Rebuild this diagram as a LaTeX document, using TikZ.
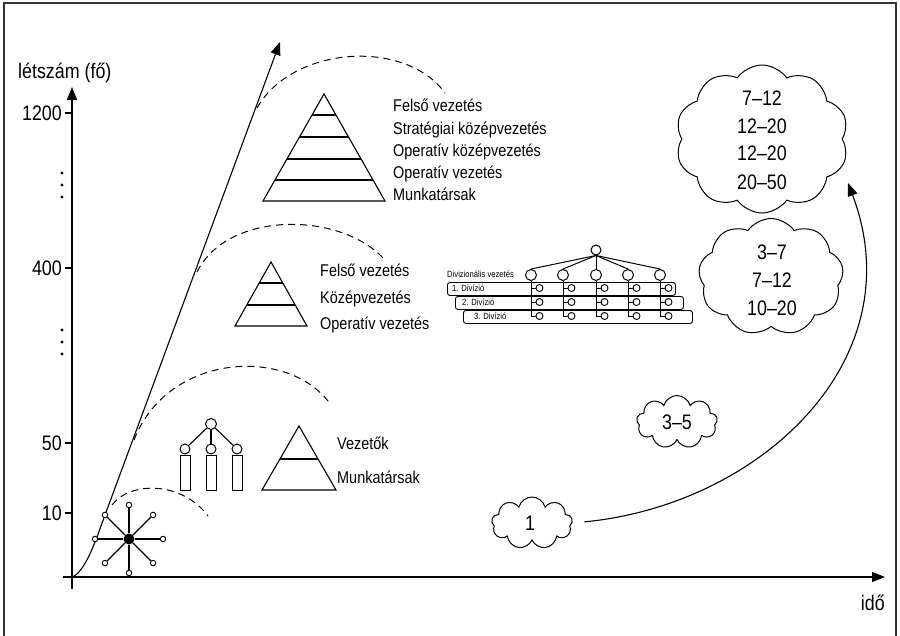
\documentclass[tikz,border=0pt]{standalone}
\usepackage{fontspec}
\setmainfont{Liberation Sans}[FakeStretch=0.85]
\usetikzlibrary{arrows.meta,shapes.symbols}

\newcommand\axisfont{\fontsize{21}{24}\selectfont}
\newcommand\lblfont{\fontsize{17}{20}\selectfont}
\newcommand\tinyfont{\fontsize{9}{10}\selectfont}

\tikzset{
  base/.style={line width=1.1pt},
  dasharc/.style={line width=1pt, dash pattern=on 7pt off 5pt},
  tip/.style={-{Triangle[length=13pt,width=10pt]}},
  puff/.style={cloud, cloud ignores aspect, draw, line width=1pt, inner sep=0pt},
  ring/.style={circle, draw, fill=white, line width=1pt, inner sep=0pt},
  lbl/.style={font=\lblfont, anchor=base west, inner sep=0pt},
  axl/.style={font=\axisfont, inner sep=0pt},
  bar/.style={draw, line width=0.9pt, rounded corners=2.5pt},
}

\begin{document}
\begin{tikzpicture}[x=1pt,y=-1pt]
\useasboundingbox (0,0) rectangle (900,635);

% frame
\draw[line width=1.5pt, black!80] (4,640) -- (4,3) -- (896,3) -- (896,640);

% axes
\coordinate (ybot) at (72,589);
\coordinate (ytop) at (72,87);
\coordinate (xleft) at (63,577);
\coordinate (xright) at (885,577);
\draw[base, tip] (ybot) -- (ytop);
\draw[base, tip] (xleft) -- (xright);
\node[axl, anchor=base west] (ylabel) at (18,78) {létszám (fő)};
\node[axl, anchor=base east] (xlabel) at (885,610) {idő};

% ticks and values
\foreach \v/\y in {1200/113, 400/268, 50/443, 10/513}{
  \coordinate (tk\v) at (72,\y);
  \draw[base] (tk\v) -- ++(-7,0);
  \node[axl, anchor=base east] (tl\v) at (62,\y+7.5) {\v};
}
\foreach \y in {173,185,197, 330,342,354}
  \fill (62,\y) circle (1.7pt);

% growth curve
\coordinate (g0) at (72,577);
\coordinate (g1) at (105,515);
\coordinate (gtip) at (280,42);
\draw[base, tip] (g0) .. controls (86,572) and (97.6,535) .. (g1) -- (gtip);

% dashed arcs
\draw[dasharc] (112,505) .. controls (130,481) and (182,481) .. (208,516);
\draw[dasharc] (134,440) .. controls (168,352) and (290,346) .. (331,405);
\draw[dasharc] (197,272) .. controls (228,210) and (340,212) .. (383,258);
\draw[dasharc] (257,108) .. controls (292,46) and (405,38) .. (445,93);

% star network
\node[circle, fill, inner sep=0pt, minimum size=11pt] (hub) at (129,539) {};
\foreach \a in {0,45,...,315}{
  \node[ring, minimum size=5.5pt, line width=0.9pt] (sp\a) at ([shift={(\a:34)}]hub) {};
  \draw[base] (hub) -- (sp\a);
}

% small tree
\node[ring, minimum size=11pt] (tr) at (211,424) {};
\foreach \n/\x in {a/185, b/211, c/237}{
  \node[draw, line width=1pt, minimum width=10pt, minimum height=35pt, inner sep=0pt, anchor=north] (rect\n) at (\x,455) {};
  \node[ring, minimum size=10pt] (t\n) at (\x,449) {};
  \draw[base] (tr) -- (t\n);
}

% small pyramid
\draw[base] (299,426) -- (336,490) -- (262,490) -- cycle;
\draw[base] (279.9,459) -- (318.1,459);
\node[lbl] (vez) at (337,449) {Vezetők};
\node[lbl] (mun1) at (337,483) {Munkatársak};

% middle pyramid
\draw[base] (271,262) -- (307,326) -- (235,326) -- cycle;
\draw[base] (259.2,283) -- (282.8,283);
\draw[base] (246.8,305) -- (295.2,305);
\node[lbl] (m1) at (320,276) {Felső vezetés};
\node[lbl] (m2) at (320,303) {Középvezetés};
\node[lbl] (m3) at (320,329) {Operatív vezetés};

% top pyramid
\draw[base] (324,94) -- (385,201) -- (263,201) -- cycle;
\draw[base] (312,115) -- (336,115);
\draw[base] (299.5,137) -- (348.5,137);
\draw[base] (286.9,159) -- (361.1,159);
\draw[base] (274.8,180) -- (373.2,180);
\node[lbl] (p1) at (393,111) {Felső vezetés};
\node[lbl] (p2) at (393,134) {Stratégiai középvezetés};
\node[lbl] (p3) at (393,156) {Operatív középvezetés};
\node[lbl] (p4) at (393,178) {Operatív vezetés};
\node[lbl] (p5) at (393,200) {Munkatársak};

% divisional structure
\node[bar, minimum width=228pt, minimum height=13pt, anchor=north west, inner sep=0pt] (row1) at (447,282) {};
\node[bar, minimum width=228pt, minimum height=13pt, anchor=north west, inner sep=0pt] (row2) at (455,296) {};
\node[bar, minimum width=229pt, minimum height=13pt, anchor=north west, inner sep=0pt] (row3) at (463,310) {};
\node[font=\tinyfont, anchor=base west, inner sep=0pt] (dl1) at (452,291.5) {1. Divízió};
\node[font=\tinyfont, anchor=base west, inner sep=0pt] (dl2) at (462,305.5) {2. Divízió};
\node[font=\tinyfont, anchor=base west, inner sep=0pt] (dl3) at (474,319.5) {3. Divízió};
\node[font=\tinyfont, anchor=base west, inner sep=0pt] (dlhead) at (447,277.5) {Divizionális vezetés};
\node[ring, minimum size=10pt] (dv0) at (596,250) {};
\foreach \i/\x in {1/531, 2/563, 3/596, 4/628, 5/660}{
  \node[ring, minimum size=11pt] (dv\i) at (\x,275) {};
  \draw[base, line width=1pt] (dv0.south) -- (dv\i.north);
  \coordinate (dvb\i) at (\x,316);
  \draw[line width=1pt] (dv\i.south) -- (dvb\i);
  \foreach \r/\yy in {a/288, b/302, c/316}{
    \node[ring, minimum size=7pt, line width=0.9pt] (dc\i\r) at (\x+8.5,\yy) {};
    \draw[line width=1pt] (\x,\yy) -- (dc\i\r.west);
  }
}

% clouds
\node[puff, cloud puffs=10, cloud puff arc=110, minimum width=173pt, minimum height=148pt] (cbig) at (762,139) {};
\node[puff, cloud puffs=9, cloud puff arc=110, minimum width=145pt, minimum height=117pt] (cmid) at (771,277) {};
\node[puff, cloud puffs=9, minimum width=81pt, minimum height=53pt] (csmall) at (677,422) {};
\node[puff, cloud puffs=9, minimum width=81pt, minimum height=52pt] (cone) at (532,523) {};

\foreach \t/\y [count=\k] in {7–12/105.5, 12–20/133.5, 12–20/160.5, 20–50/189.5}
  \node[axl, anchor=base] (bt\k) at (762,\y) {\t};
\foreach \t/\y [count=\k] in {3–7/259.5, 7–12/287.5, 10–20/315.5}
  \node[axl, anchor=base] (mt\k) at (772,\y) {\t};
\node[axl, anchor=base] (st) at (677,429.5) {3–5};
\node[axl, anchor=base] (ot) at (530,530.5) {1};

% growth arrow from the single-person cloud
\coordinate (grow) at (848,183);
\draw[base, tip, shorten <=12pt] (cone.east) .. controls (760,505) and (915,360) .. (grow);

\end{tikzpicture}
\end{document}
